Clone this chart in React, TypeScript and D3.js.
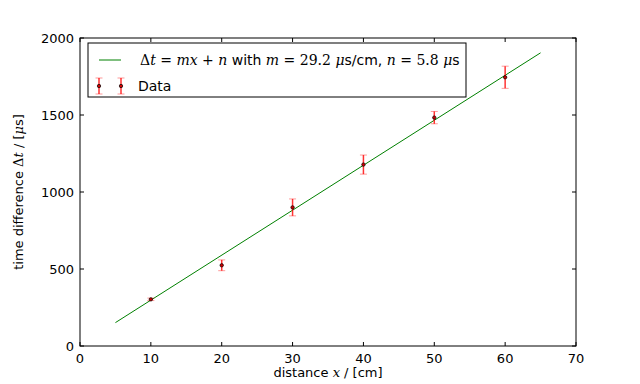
import React from 'react';
import * as d3 from 'd3';

// measured distances and time differences
const distances = [10, 20, 30, 40, 50, 60];
const times = [303, 524, 900, 1178, 1483, 1745];
const errors = [8, 35, 55, 62, 40, 72];
const fitM = 29.2;
const fitN = 5.8;
const fitRange = [5, 65];
const xTicks = [0, 10, 20, 30, 40, 50, 60, 70];
const yTicks = [0, 500, 1000, 1500, 2000];

const W = 640;
const H = 384;
const margin = { top: 38, right: 64, bottom: 38, left: 80 };
const font = 'DejaVu Sans, sans-serif';
const mathFont = 'DejaVu Serif, serif';

const ErrBar = ({ cx, cy, top, bottom }: { cx: number; cy: number; top: number; bottom: number }) => (
  <g>
    <line x1={cx} x2={cx} y1={top} y2={bottom} stroke="#ff0000" strokeWidth={1.5} strokeOpacity={0.8} />
    <line x1={cx - 3.5} x2={cx + 3.5} y1={top} y2={top} stroke="#ff0000" strokeOpacity={0.4} strokeWidth={1} />
    <line x1={cx - 3.5} x2={cx + 3.5} y1={bottom} y2={bottom} stroke="#ff0000" strokeOpacity={0.4} strokeWidth={1} />
    <circle cx={cx} cy={cy} r={1.7} fill="#cc0000" stroke="#000" strokeWidth={0.7} />
  </g>
);

export default function App() {
  const x = d3.scaleLinear().domain([0, 70]).range([margin.left, W - margin.right]);
  const y = d3.scaleLinear().domain([0, 2000]).range([H - margin.bottom, margin.top]);
  const fit = d3
    .line<number>()
    .x(d => x(d))
    .y(d => y(fitM * d + fitN));

  const x0 = x(0), x1 = x(70), y0 = y(0), y1 = y(2000);

  return (
    <svg width={W} height={H} style={{ position: 'absolute', left: 0, top: 0, background: '#fff' }}>
      <rect x={x0} y={y1} width={x1 - x0} height={y0 - y1} fill="#fff" />
      <path d={fit(fitRange) || ''} stroke="#008000" strokeWidth={1} fill="none" />
      {distances.map((d, i) => (
        <ErrBar key={i} cx={x(d)} cy={y(times[i])} top={y(times[i] + errors[i])} bottom={y(times[i] - errors[i])} />
      ))}
      <rect x={x0} y={y1} width={x1 - x0} height={y0 - y1} fill="none" stroke="#000" strokeWidth={1} />
      {xTicks.map(t => (
        <g key={t}>
          <line x1={x(t)} x2={x(t)} y1={y0} y2={y0 - 4} stroke="#000" />
          <line x1={x(t)} x2={x(t)} y1={y1} y2={y1 + 4} stroke="#000" />
          <text x={x(t)} y={y0 + 17} textAnchor="middle" fontFamily={font} fontSize={13}>{t}</text>
        </g>
      ))}
      {yTicks.map(t => (
        <g key={t}>
          <line x1={x0} x2={x0 + 4} y1={y(t)} y2={y(t)} stroke="#000" />
          <line x1={x1} x2={x1 - 4} y1={y(t)} y2={y(t)} stroke="#000" />
          <text x={x0 - 6} y={y(t) + 4.5} textAnchor="end" fontFamily={font} fontSize={13}>{t}</text>
        </g>
      ))}
      <text x={(x0 + x1) / 2} y={377} textAnchor="middle" fontFamily={font} fontSize={13}>
        distance <tspan fontFamily={mathFont} fontStyle="italic">x</tspan> / [cm]
      </text>
      <text transform={`translate(23,${(y0 + y1) / 2}) rotate(-90)`} textAnchor="middle" fontFamily={font} fontSize={13}>
        time difference <tspan fontFamily={mathFont}>Δ</tspan><tspan fontFamily={mathFont} fontStyle="italic">t</tspan> / [<tspan fontFamily={mathFont} fontStyle="italic">μ</tspan>s]
      </text>
      <g>
        <rect x={88} y={43} width={378} height={54} fill="#fff" stroke="#000" strokeWidth={1} />
        <line x1={99} x2={121} y1={60} y2={60} stroke="#008000" strokeWidth={1} />
        <text x={140} y={65} fontFamily={font} fontSize={14}>
          <tspan fontFamily={mathFont}>Δ</tspan><tspan fontFamily={mathFont} fontStyle="italic">t</tspan>
          <tspan fontFamily={mathFont}> = </tspan><tspan fontFamily={mathFont} fontStyle="italic">mx</tspan>
          <tspan fontFamily={mathFont}> + </tspan><tspan fontFamily={mathFont} fontStyle="italic">n</tspan> with{' '}
          <tspan fontFamily={mathFont} fontStyle="italic">m</tspan><tspan fontFamily={mathFont}> = 29.2 </tspan>
          <tspan fontFamily={mathFont} fontStyle="italic">μ</tspan>s/cm,{' '}
          <tspan fontFamily={mathFont} fontStyle="italic">n</tspan><tspan fontFamily={mathFont}> = 5.8 </tspan>
          <tspan fontFamily={mathFont} fontStyle="italic">μ</tspan>s
        </text>
        <ErrBar cx={99} cy={86} top={78} bottom={94} />
        <ErrBar cx={121} cy={86} top={78} bottom={94} />
        <text x={138} y={91} fontFamily={font} fontSize={14}>Data</text>
      </g>
    </svg>
  );
}
